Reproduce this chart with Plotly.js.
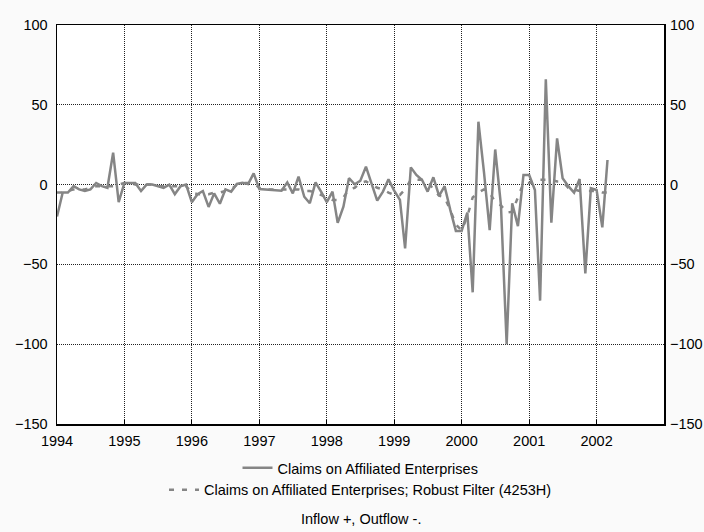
<!DOCTYPE html>
<html>
<head>
<meta charset="utf-8">
<script src="https://cdn.plot.ly/plotly-3.0.1.min.js"></script>
<style>html,body{margin:0;padding:0;background:#fafafa;}#chart{width:704px;height:532px;}</style>
</head>
<body>
<div id="chart"></div>
<script>
// Monthly observations, January 1994 to March 2002
const startYear = 1994;
const claims = [
  // 1994
  -20, -5, -5, -1, -3, -4, -3, 1, -1, -2, 20, -11,
  // 1995
  1, 1, 1, -4, 0, 0, -1, -2, 0, -6, -1, 0,
  // 1996
  -11, -6, -4, -14, -5.5, -12, -3, -4.4, 0.4, 1.2, 0.4, 7,
  // 1997
  -2.8, -3, -3.3, -3.5, -3.8, 1.4, -5.5, 5, -7.6, -11.7, 1.4, -4.4,
  // 1998
  -11, -4.4, -24, -13.8, 4, 0.2, 2.3, 11.2, 0.8, -10, -4.4, 3.3,
  // 1999
  -3.8, -9.6, -40, 10.8, 6, 2.9, -4.4, 4.6, -7, -1, -16, -29,
  // 2000
  -29, -17.6, -67.5, 39.4, 8, -28.5, 22, -12.8, -100, -11.7, -26, 6,
  // 2001
  6, -3.4, -72.7, 66, -23.8, 29, 4, -1, -5, 3.5, -55.6, -2.3,
  // 2002
  -3.4, -26.8, 15.4
];
const robust = [
  // 1994
  -5, -5, -4, -3, -3, -3, -2, -1, -1, -1, -1, 0,
  // 1995
  1, 1, 0, 0, 0, 0, -1, -1, -1, -1, -1, -1,
  // 1996
  -5, -6, -6, -6, -5, -5, -4, -3, 0, 1, 1, 1,
  // 1997
  -2, -3, -3, -3, -3, -3, -3, -3, -4, -4, -5, -6.5,
  // 1998
  -8, -9.6, -9.6, -8, -3, -2, 1, 2, 0, -2, -3, -5,
  // 1999
  -6.5, -6.5, -3, 3, 3, 3, 2, -3, -7, -8, -16, -25,
  // 2000
  -28.6, -20, -8, -5, -3, -5, -11, -13, -17.6, -17, -8, 1,
  // 2001
  1, 2, 3, 3, 3, 2, 2, -2, -3, -4, -4, -4,
  // 2002
  -4, -5, -5
];
const seriesNames = ["Claims on Affiliated Enterprises",
                     "Claims on Affiliated Enterprises; Robust Filter (4253H)"];
const caption = "Inflow +, Outflow -.";
const yTicks = [-150, -100, -50, 0, 50, 100];
const xTickYears = ["1994", "1995", "1996", "1997", "1998", "1999", "2000", "2001", "2002"];

const dates = claims.map((_, i) => {
  const y = startYear + Math.floor(i / 12);
  const m = (i % 12) + 1;
  return y + "-" + (m < 10 ? "0" + m : m) + "-01";
});

const lineColor = "#858585";
const traces = [
  {x: dates, y: claims, type: "scatter", mode: "lines", name: seriesNames[0],
   line: {color: lineColor, width: 2.5}, legend: "legend"},
  {x: dates, y: robust, type: "scatter", mode: "lines", name: seriesNames[1],
   line: {color: lineColor, width: 2.5, dash: "5px,8px"}, legend: "legend2"},
  {x: [dates[0]], y: [0], type: "scatter", mode: "none", yaxis: "y2",
   showlegend: false, hoverinfo: "skip"}
];

const font = {family: "Liberation Sans, Arial, sans-serif", size: 14.5, color: "#000"};
const layout = {
  width: 704, height: 532,
  paper_bgcolor: "#fafafa", plot_bgcolor: "#ffffff",
  margin: {l: 57, r: 40, t: 25, b: 108},
  font: font,
  showlegend: true,
  xaxis: {
    type: "date", range: ["1994-01-01", "2003-01-01"],
    tickvals: xTickYears.map(y => y + "-01-01"), ticktext: xTickYears,
    showgrid: true, gridcolor: "#222", griddash: "1px,1px", gridwidth: 1,
    showline: true, linecolor: "#000", linewidth: 1.5, mirror: true,
    ticks: "inside", ticklen: 4, tickcolor: "#000",
    ticklabelstandoff: 3,
    zeroline: false, tickfont: font
  },
  yaxis: {
    range: [-150, 100], tickvals: yTicks,
    showgrid: true, gridcolor: "#222", griddash: "1px,1px", gridwidth: 1,
    showline: true, linecolor: "#000", linewidth: 1.5, mirror: true,
    ticks: "", zeroline: false, tickfont: font, ticklabelstandoff: 5
  },
  yaxis2: {
    range: [-150, 100], tickvals: yTicks, overlaying: "y", side: "right",
    showgrid: false, showline: false, ticks: "", zeroline: false, tickfont: font,
    ticklabelstandoff: 5
  },
  legend: {x: 0.5, xanchor: "center", y: -0.07, yanchor: "top",
           bgcolor: "rgba(0,0,0,0)", font: font, itemwidth: 30},
  legend2: {x: 0.5, xanchor: "center", y: -0.125, yanchor: "top",
            bgcolor: "rgba(0,0,0,0)", font: font, itemwidth: 30},
  annotations: [{
    text: caption, xref: "paper", yref: "paper", x: 0.5, y: -0.238,
    xanchor: "center", yanchor: "middle", showarrow: false, font: font
  }]
};

Plotly.newPlot("chart", traces, layout, {displayModeBar: false, staticPlot: true});
</script>
</body>
</html>
